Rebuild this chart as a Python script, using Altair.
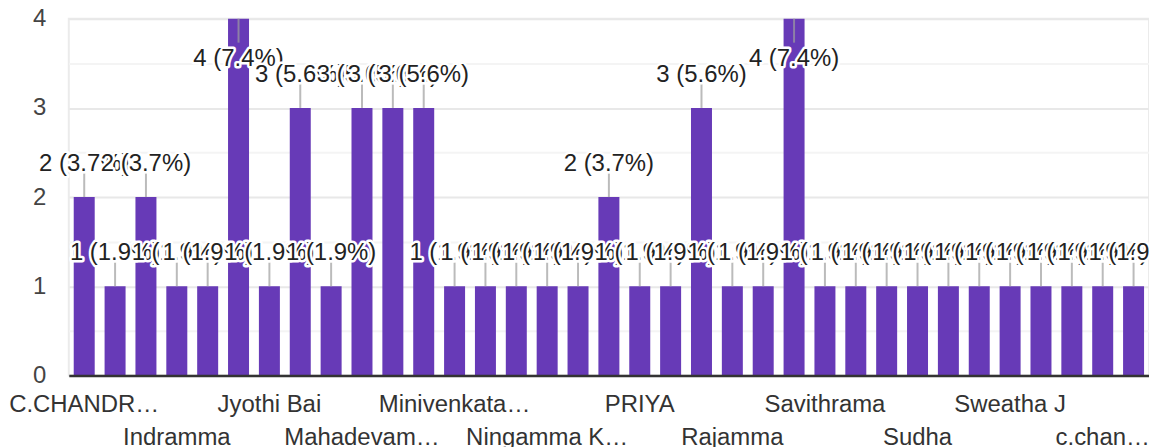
import json
import altair as alt
import pandas as pd

# ---- data ----
names = ["C.CHANDR…", "Chandrika", "Gowramma", "Indramma", "Jayamma", "Jayashree",
         "Jyothi Bai", "Kavitha", "Lakshmi", "Mahadevam…", "Manjula", "Meena",
         "Minivenkata…", "Munirathna", "Nagamma", "Ningamma K…", "Nirmala", "Nithya",
         "PRIYA", "Pushpa", "Radha", "Rajamma", "Renuka", "Roopa", "Savithrama",
         "Shanthamma", "Shobha", "Sudha", "Suma", "Sunitha", "Sweatha J", "Uma",
         "Vani", "c.chan…", "latha"]
counts = [2, 1, 2, 1, 1, 4, 1, 3, 1, 3, 3, 3, 1, 1, 1, 1, 1, 2, 1, 1, 3, 1, 1, 4,
          1, 1, 1, 1, 1, 1, 1, 1, 1, 1, 1]
axis_labels = ["C.CHANDR…", "Indramma", "Jyothi Bai", "Mahadevam…", "Minivenkata…",
               "Ningamma K…", "PRIYA", "Rajamma", "Savithrama", "Sudha", "Sweatha J",
               "c.chan…"]
y_ticks = [0, 0.5, 1, 1.5, 2, 2.5, 3, 3.5, 4]

total = sum(counts)
ann = [f"{c} ({c / total * 100:.1f}%)" for c in counts]
df = pd.DataFrame({"name": names, "count": counts, "label": ann,
                   "idx": list(range(len(names)))})
row2 = axis_labels[1::2]
vmax = max(counts)

FONT = "Liberation Sans"
FS = 24

x_enc = alt.X(
    "name:N", sort=None, title=None,
    scale=alt.Scale(paddingInner=0.32, paddingOuter=0.16),
    axis=alt.Axis(
        values=axis_labels, labelAngle=0, labelFont=FONT, labelFontSize=FS,
        labelColor="#333333", labelBaseline="alphabetic",
        labelPadding={"condition": {"test": f"indexof({json.dumps(row2)}, datum.value) >= 0",
                                    "value": 69}, "value": 36},
        ticks=False, tickSize=0, domainColor="#333333", domainWidth=2.5,
        grid=False, labelOverlap=False, labelLimit=400, zindex=1,
    ),
)
y_enc = alt.Y(
    "count:Q", title=None,
    scale=alt.Scale(domain=[0, 4], nice=False),
    axis=alt.Axis(
        values=y_ticks,
        labelExpr="datum.value % 1 == 0 ? format(datum.value, 'd') : ''",
        gridColor={"condition": {"test": "datum.value % 1 != 0", "value": "#f4f4f4"},
                   "value": "#e8e8e8"},
        gridWidth=2, domain=False, ticks=False, labelPadding=23,
        labelFont=FONT, labelFontSize=FS, labelColor="#444444",
    ),
)

base = alt.Chart(df).encode(x=x_enc, y=y_enc)

bars = base.mark_bar(color="#673ab7")
stems_up = base.mark_tick(orient="vertical", size=24, thickness=2, yOffset=-12,
                          color="#9e9e9e").transform_filter(f"datum.count < {vmax}")
stems_dn = base.mark_tick(orient="vertical", size=24, thickness=2, yOffset=12,
                          color="#9e9e9e").transform_filter(f"datum.count >= {vmax}")

layers = [bars, stems_up, stems_dn]
for k in range(len(names)):
    dy = 47 if counts[k] == vmax else -26
    sub = base.transform_filter(f"datum.idx == {k}")
    halo = sub.mark_text(font=FONT, fontSize=FS, baseline="alphabetic", dy=dy,
                         fill="white", stroke="white", strokeWidth=5,
                         strokeJoin="round").encode(text="label:N")
    txt = sub.mark_text(font=FONT, fontSize=FS, baseline="alphabetic", dy=dy,
                        color="#222222").encode(text="label:N")
    layers += [halo, txt]

chart = alt.layer(*layers).properties(
    width=1084, height=358,
    autosize=alt.AutoSizeParams(type="none"),
    padding={"left": 61, "top": 10, "right": 0, "bottom": 71},
).configure_view(stroke="#ebebeb", strokeWidth=2)

chart.save("out.html", embed_options={"renderer": "svg", "actions": False})
